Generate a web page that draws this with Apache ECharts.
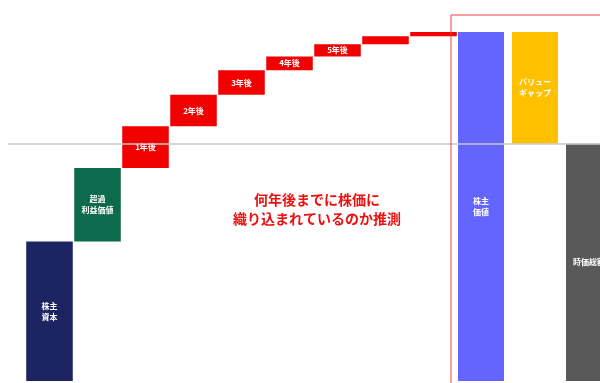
<!DOCTYPE html>
<html>
<head>
<meta charset="utf-8">
<script src="https://cdn.jsdelivr.net/npm/echarts@6/dist/echarts.min.js"></script>
<style>
  html, body { margin: 0; padding: 0; background: #fff; }
  #chart { width: 600px; height: 383px; }
</style>
</head>
<body>
<div id="chart"></div>
<script>
// 左側：株主資本から積み上げ
const stepNames = ['株主\n資本', '超過\n利益価値', '1年後', '2年後', '3年後', '4年後', '5年後', '', '']
const stepBase = [0, 40, 61, 73, 82, 89, 93, 96.5, 98.8]
const stepValue = [40, 21, 12, 9, 7, 4, 3.5, 2.3, 1.2]
const stepColors = ['#1c2462', '#0d6a4c', '#f20000', '#f20000', '#f20000', '#f20000', '#f20000', '#f20000', '#f20000']

// 右側：株主価値 / バリューギャップ / 時価総額
const rightNames = ['株主\n価値', 'バリュー\nギャップ', '時価総額']
const shareholderValue = 100
const marketCap = 68
const rightBase = [0, marketCap, 0]
const rightValue = [shareholderValue, shareholderValue - marketCap, marketCap]
const rightColors = ['#6464ff', '#ffc000', '#595959']

const noteText = '何年後までに株価に\n織り込まれているのか推測'

const yMax = 105
const chart = echarts.init(document.getElementById('chart'))

const labelStyle = {
    show: true,
    position: 'inside',
    color: '#fff',
    fontSize: 8,
    fontWeight: 'bold',
    lineHeight: 11,
    fontFamily: 'Noto Sans CJK JP',
    formatter: p => p.name
}

const option = {
    animation: false,
    grid: [
        { left: 25.5, width: 432, top: 14.5, bottom: 2 },
        { left: 481, width: 108, top: 14.5, bottom: 2 },
        { left: 8, right: 0, top: 14.5, bottom: 2 }
    ],
    xAxis: [
        { type: 'category', gridIndex: 0, data: stepNames, show: false },
        { type: 'category', gridIndex: 1, data: rightNames, show: false, boundaryGap: false },
        { type: 'value', gridIndex: 2, show: false, min: 0, max: 1 }
    ],
    yAxis: [0, 1, 2].map(i => ({
        type: 'value', gridIndex: i, min: 0, max: yMax, show: false
    })),
    graphic: [
        {
            type: 'rect',
            shape: { x: 451, y: 15, width: 170, height: 400 },
            style: { fill: 'none', stroke: '#f04040', lineWidth: 1 },
            z: 100
        },
        {
            type: 'text',
            x: 317, y: 209,
            style: {
                text: noteText,
                fill: '#ee1111',
                fontSize: 14,
                fontWeight: 'bold',
                lineHeight: 19,
                fontFamily: 'Noto Sans CJK JP',
                align: 'center',
                verticalAlign: 'middle'
            }
        }
    ],
    series: [
        // 時価総額ライン
        {
            type: 'line',
            xAxisIndex: 2,
            yAxisIndex: 2,
            data: [],
            z: 1,
            markLine: {
                silent: true,
                symbol: 'none',
                label: { show: false },
                lineStyle: { color: '#c8c8c8', type: 'solid', width: 1.5 },
                data: [{ yAxis: marketCap }]
            }
        },
        {
            type: 'bar',
            stack: 'left',
            xAxisIndex: 0,
            yAxisIndex: 0,
            itemStyle: { color: 'transparent' },
            data: stepBase,
            z: 2
        },
        {
            type: 'bar',
            stack: 'left',
            xAxisIndex: 0,
            yAxisIndex: 0,
            barCategoryGap: '3%',
            label: labelStyle,
            data: stepValue.map((v, i) => ({ value: v, itemStyle: { color: stepColors[i] } })),
            z: 2
        },
        {
            type: 'bar',
            stack: 'right',
            xAxisIndex: 1,
            yAxisIndex: 1,
            clip: false,
            barWidth: 46,
            itemStyle: { color: 'transparent' },
            data: rightBase,
            z: 2
        },
        {
            type: 'bar',
            stack: 'right',
            xAxisIndex: 1,
            yAxisIndex: 1,
            clip: false,
            barWidth: 46,
            label: labelStyle,
            data: rightValue.map((v, i) => ({ value: v, itemStyle: { color: rightColors[i] } })),
            z: 2
        }
    ]
}

chart.setOption(option)
</script>
</body>
</html>
